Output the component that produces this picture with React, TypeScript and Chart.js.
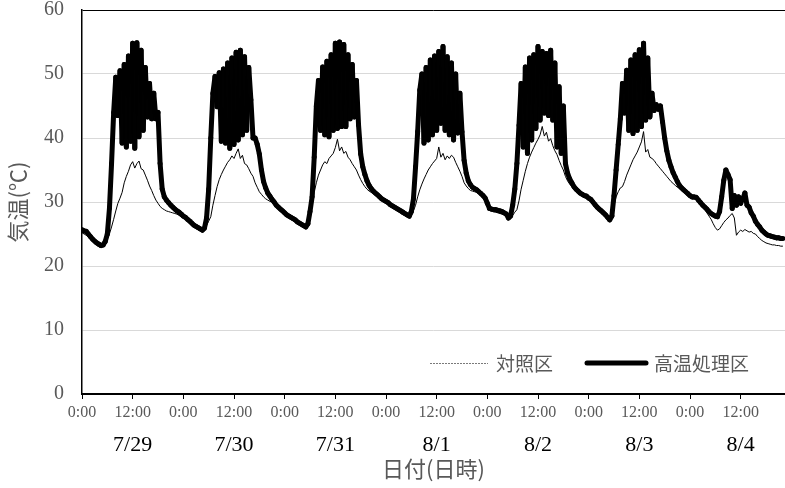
import React, { useEffect, useRef } from 'react';
import { Chart, registerables } from 'chart.js';

Chart.register(...registerables);

// ---- labels ----
const dayLabels = ['7/29', '7/30', '7/31', '8/1', '8/2', '8/3', '8/4'];
const timeTickHours = [0, 12, 24, 36, 48, 60, 72, 84, 96, 108, 120, 132, 144, 156];
const dayCenterHours = [12, 36, 60, 84, 108, 132, 156];
const seriesNames = ['対照区', '高温処理区'];
const xTitle = '日付(日時)';
const yTitle = '気温(℃)';
const sampleStepHours = 0.5; // one reading every 30 min, starting 7/29 0:00

// ---- 高温処理区 (heat treatment), 30-min readings per day ----
const heat0729 = [25.7, 25.5, 25.4, 25.0, 24.6, 24.2, 23.9, 23.6, 23.4, 23.2,
  23.3, 23.8, 25.0, 29.0, 36.0, 44.0, 49.5, 43.5, 50.5, 39.2,
  51.5, 38.6, 52.8, 39.5, 54.8, 38.4, 54.9, 40.2, 53.7, 41.2,
  51.0, 43.3, 48.5, 43.0, 47.0, 43.0, 44.0, 36.0, 32.0, 30.8,
  30.3, 29.9, 29.5, 29.2, 28.9, 28.6, 28.4, 28.1];
const heat0730 = [27.8, 27.6, 27.3, 27.0, 26.7, 26.4, 26.2, 26.0, 25.8, 25.6,
  25.9, 27.5, 32.0, 40.0, 47.0, 49.6, 44.9, 50.2, 39.5, 50.8,
  39.2, 51.7, 38.4, 52.5, 39.0, 53.4, 39.7, 53.7, 40.5, 52.7,
  41.2, 51.0, 46.0, 40.0, 40.0, 39.0, 37.5, 35.0, 33.2, 32.2,
  31.4, 30.9, 30.4, 30.0, 29.5, 29.2, 28.9, 28.6];
const heat0731 = [28.3, 28.0, 27.8, 27.6, 27.4, 27.2, 26.9, 26.7, 26.5, 26.3,
  26.1, 26.6, 28.5, 30.8, 37.0, 45.0, 49.0, 41.2, 51.1, 40.5,
  52.0, 40.2, 53.0, 41.2, 54.8, 41.5, 55.0, 41.8, 54.6, 41.8,
  53.0, 43.0, 51.5, 43.3, 49.0, 42.0, 37.5, 35.5, 34.3, 33.3,
  32.6, 32.1, 31.7, 31.4, 31.1, 30.8, 30.5, 30.3];
const heat0801 = [30.1, 29.9, 29.6, 29.4, 29.2, 29.0, 28.8, 28.6, 28.4, 28.2,
  28.0, 27.8, 28.5, 30.5, 35.5, 41.0, 47.5, 50.0, 39.2, 51.0,
  39.7, 52.2, 40.5, 52.8, 41.2, 53.5, 42.3, 54.3, 41.2, 52.7,
  40.5, 51.7, 39.7, 50.0, 40.8, 47.0, 41.0, 36.5, 34.5, 33.3,
  32.7, 32.3, 32.1, 31.9, 31.6, 31.3, 31.0, 30.6];
const heat0802 = [29.8, 29.0, 28.9, 28.8, 28.8, 28.7, 28.6, 28.5, 28.3, 28.1,
  27.5, 27.8, 29.5, 32.0, 36.0, 42.0, 48.5, 38.6, 51.1, 37.6,
  52.5, 39.7, 53.0, 41.5, 54.3, 42.8, 53.5, 43.9, 53.2, 43.5,
  53.7, 42.8, 51.7, 38.6, 48.0, 37.6, 45.0, 36.0, 34.5, 33.6,
  33.0, 32.4, 32.0, 31.7, 31.4, 31.2, 31.0, 30.9];
const heat0803 = [30.6, 30.4, 30.0, 29.6, 29.2, 28.9, 28.6, 28.3, 28.0, 27.6,
  27.2, 27.8, 31.0, 35.0, 39.0, 43.0, 48.5, 43.9, 50.6, 41.2,
  52.2, 40.7, 53.0, 41.2, 53.8, 41.8, 54.8, 42.8, 52.5, 43.3,
  47.0, 44.3, 45.2, 44.5, 45.0, 42.5, 40.0, 38.0, 36.5, 35.5,
  34.6, 33.9, 33.2, 32.6, 32.2, 31.9, 31.6, 31.3];
const heat0804 = [31.0, 30.8, 30.8, 30.7, 30.3, 29.9, 29.5, 29.2, 28.9, 28.5,
  28.2, 28.0, 27.8, 27.7, 28.5, 30.8, 33.4, 35.0, 34.3, 33.5,
  29.0, 31.0, 29.5, 30.8, 29.8, 30.5, 31.4, 29.5, 29.2, 28.3,
  27.8, 27.0, 26.5, 26.1, 25.6, 25.3, 25.0, 24.8, 24.7, 24.6,
  24.5, 24.4, 24.4, 24.3, 24.3];

// ---- 対照区 (control), 30-min readings per day ----
const ctrl0729 = [25.2, 25.0, 24.8, 24.5, 24.2, 23.9, 23.6, 23.4, 23.2, 23.0,
  23.1, 23.4, 24.2, 25.0, 26.1, 27.3, 28.6, 29.8, 30.6, 31.5,
  33.0, 34.0, 34.8, 35.8, 36.3, 35.3, 36.0, 36.4, 35.2, 35.0,
  34.2, 33.4, 32.5, 31.8, 31.0, 30.3, 29.8, 29.3, 29.0, 28.8,
  28.6, 28.5, 28.4, 28.3, 28.2, 28.1, 27.9, 27.7];
const ctrl0730 = [27.5, 27.3, 27.0, 26.7, 26.4, 26.1, 25.9, 25.7, 25.5, 25.3,
  25.5, 26.3, 27.0, 27.7, 29.5, 31.0, 32.4, 33.5, 34.3, 35.0,
  35.6, 36.2, 36.6, 37.2, 36.8, 37.6, 38.3, 36.8, 37.3, 36.0,
  35.8, 35.2, 34.5, 34.0, 33.0, 32.3, 31.6, 31.2, 30.8, 30.5,
  30.3, 30.1, 30.0, 29.7, 29.2, 28.9, 28.6, 28.3];
const ctrl0731 = [28.0, 27.7, 27.5, 27.3, 27.1, 26.9, 26.6, 26.4, 26.2, 26.0,
  25.8, 26.3, 27.8, 29.5, 31.5, 33.0, 34.2, 35.0, 35.8, 36.3,
  36.0, 36.8, 37.2, 37.6, 38.5, 39.8, 38.0, 38.6, 37.6, 37.9,
  37.0, 36.6, 36.0, 35.5, 35.0, 34.2, 33.5, 32.9, 32.4, 32.0,
  31.7, 31.5, 31.3, 31.1, 30.8, 30.5, 30.2, 30.0];
const ctrl0801 = [29.8, 29.6, 29.3, 29.1, 28.9, 28.7, 28.5, 28.3, 28.1, 27.9,
  27.7, 27.5, 27.9, 28.6, 29.5, 30.8, 31.9, 32.8, 33.6, 34.3,
  35.0, 35.5, 36.0, 36.4, 36.8, 38.6, 37.0, 37.6, 36.6, 37.2,
  36.8, 37.3, 37.0, 36.2, 35.5, 34.8, 34.0, 33.0, 32.5, 32.1,
  31.8, 31.7, 31.6, 31.5, 31.3, 31.0, 30.7, 30.2];
const ctrl0802 = [29.4, 28.7, 28.6, 28.5, 28.4, 28.3, 28.2, 28.1, 28.0, 27.8,
  27.3, 27.4, 27.9, 28.4, 28.8, 30.2, 32.0, 33.4, 34.8, 36.0,
  37.0, 37.8, 38.5, 39.2, 39.8, 40.5, 41.8, 40.3, 40.9, 39.5,
  39.9, 38.8, 38.0, 37.4, 36.5, 35.7, 35.0, 34.0, 33.3, 32.8,
  32.4, 32.0, 31.7, 31.4, 31.1, 30.9, 30.7, 30.6];
const ctrl0803 = [30.3, 30.1, 29.7, 29.3, 28.9, 28.6, 28.3, 28.0, 27.7, 27.3,
  27.0, 27.6, 29.5, 30.8, 31.6, 32.2, 32.4, 33.2, 34.2, 35.0,
  35.8, 36.6, 37.2, 37.8, 38.6, 39.4, 41.0, 37.8, 38.2, 37.0,
  36.8, 36.5, 36.0, 35.6, 35.2, 34.8, 34.4, 34.0, 33.6, 33.2,
  32.9, 32.6, 32.3, 32.1, 31.8, 31.6, 31.3, 31.0];
const ctrl0804 = [30.7, 30.5, 30.5, 30.4, 30.0, 29.6, 29.2, 28.8, 28.3, 27.8,
  27.3, 26.6, 26.0, 25.6, 25.8, 26.3, 26.8, 27.2, 27.5, 27.9,
  28.2, 27.5, 24.8, 25.3, 25.6, 25.4, 25.7, 25.5, 25.3, 25.4,
  25.1, 25.0, 24.6, 24.3, 24.0, 23.8, 23.6, 23.5, 23.4, 23.3,
  23.3, 23.2, 23.2, 23.1, 23.1];

const heatValues = [...heat0729, ...heat0730, ...heat0731, ...heat0801, ...heat0802, ...heat0803, ...heat0804];
const ctrlValues = [...ctrl0729, ...ctrl0730, ...ctrl0731, ...ctrl0801, ...ctrl0802, ...ctrl0803, ...ctrl0804];

const toPoints = (vals: number[]) => vals.map((v, i) => ({ x: i * sampleStepHours, y: v }));

const JP = "'Noto Sans CJK JP', 'Noto Sans', sans-serif";
const SERIF = "'Liberation Serif', 'DejaVu Serif', serif";

const legendPlugin = {
  id: 'insideLegend',
  afterDraw(chart: any) {
    const { ctx, chartArea } = chart;
    const y = chartArea.bottom - 31;
    const r = chartArea.right;
    ctx.save();
    ctx.beginPath();
    ctx.strokeStyle = '#7a7a7a';
    ctx.lineWidth = 1;
    ctx.setLineDash([2, 1]);
    ctx.moveTo(r - 355, y + 0.5);
    ctx.lineTo(r - 297, y + 0.5);
    ctx.stroke();
    ctx.setLineDash([]);
    ctx.beginPath();
    ctx.strokeStyle = '#000';
    ctx.lineWidth = 5;
    ctx.lineCap = 'round';
    ctx.moveTo(r - 198, y);
    ctx.lineTo(r - 139, y);
    ctx.stroke();
    ctx.fillStyle = '#595959';
    ctx.font = `19px ${JP}`;
    ctx.textBaseline = 'middle';
    ctx.textAlign = 'left';
    ctx.fillText(seriesNames[0], r - 289, y + 1);
    ctx.fillText(seriesNames[1], r - 131, y + 1);
    ctx.restore();
  },
};

export default function App() {
  const ref = useRef<HTMLCanvasElement | null>(null);
  useEffect(() => {
    if (!ref.current) return;
    const chart = new Chart(ref.current, {
      type: 'line',
      data: {
        datasets: [
          {
            label: seriesNames[0],
            data: toPoints(ctrlValues),
            borderColor: '#000',
            backgroundColor: '#000',
            borderWidth: 1,
            pointRadius: 0,
            tension: 0,
            order: 1,
          },
          {
            label: seriesNames[1],
            data: toPoints(heatValues),
            borderColor: '#000',
            backgroundColor: '#000',
            borderWidth: 5,
            pointRadius: 0,
            tension: 0,
            borderJoinStyle: 'round',
            borderCapStyle: 'round',
            segment: {
              borderColor: (c: any) => (c.p0DataIndex % 2 === 0 ? '#000000' : '#010101'),
            },
            order: 0,
          },
        ],
      },
      options: {
        animation: false,
        responsive: true,
        maintainAspectRatio: false,
        layout: { padding: { top: 10, right: 0, bottom: 0, left: 0 } },
        plugins: { legend: { display: false }, tooltip: { enabled: false } },
        scales: {
          x: {
            type: 'linear',
            position: 'bottom',
            weight: 0,
            min: 0,
            max: 166.5,
            afterBuildTicks: (s: any) => {
              s.ticks = timeTickHours.map((v) => ({ value: v }));
            },
            afterFit: (s: any) => {
              s.height = 28;
              s.paddingLeft = 0;
              s.paddingRight = 0;
            },
            ticks: {
              autoSkip: false,
              maxRotation: 0,
              minRotation: 0,
              padding: 4,
              color: '#595959',
              font: { family: SERIF, size: 16, lineHeight: 1.2 },
              callback: (v: any) => (Number(v) % 24 === 0 ? '0:00' : '12:00'),
            },
            grid: { drawOnChartArea: false, drawTicks: true, tickLength: 5, color: '#000', lineWidth: 1 },
            border: { color: '#000', width: 2 },
          },
          x2: {
            type: 'linear',
            position: 'bottom',
            weight: 1,
            min: 0,
            max: 166.5,
            afterBuildTicks: (s: any) => {
              s.ticks = dayCenterHours.map((v) => ({ value: v }));
            },
            afterFit: (s: any) => {
              s.height = 66;
              s.paddingLeft = 0;
              s.paddingRight = 0;
            },
            ticks: {
              autoSkip: false,
              maxRotation: 0,
              minRotation: 0,
              padding: 12,
              color: '#000',
              font: { family: SERIF, size: 22, lineHeight: 1 },
              callback: (v: any) => dayLabels[Math.round((Number(v) - 12) / 24)] ?? '',
            },
            grid: { display: false, drawTicks: false },
            border: { display: false },
            title: {
              display: true,
              text: xTitle,
              color: '#595959',
              font: { family: JP, size: 22, lineHeight: 1 },
              padding: { top: 2, bottom: 8 },
            },
          },
          y: {
            type: 'linear',
            min: 0,
            max: 60,
            afterFit: (s: any) => {
              s.width = 82;
              s.paddingTop = 0;
              s.paddingBottom = 0;
            },
            ticks: {
              stepSize: 10,
              padding: 18,
              color: '#595959',
              font: { family: SERIF, size: 20, lineHeight: 1 },
            },
            grid: {
              drawTicks: false,
              lineWidth: 1,
              color: (c: any) => (c.tick && c.tick.value === 60 ? '#000' : '#d9d9d9'),
            },
            border: { color: '#000', width: 1.5 },
            title: {
              display: true,
              text: yTitle,
              color: '#595959',
              font: { family: JP, size: 22, lineHeight: 1 },
              padding: { top: 7, bottom: 0 },
            },
          },
        },
      } as any,
      plugins: [legendPlugin],
    });
    return () => chart.destroy();
  }, []);
  return (
    <div style={{ position: 'fixed', left: 0, top: 0, width: 785, height: 488, background: '#fff' }}>
      <canvas ref={ref} />
    </div>
  );
}
